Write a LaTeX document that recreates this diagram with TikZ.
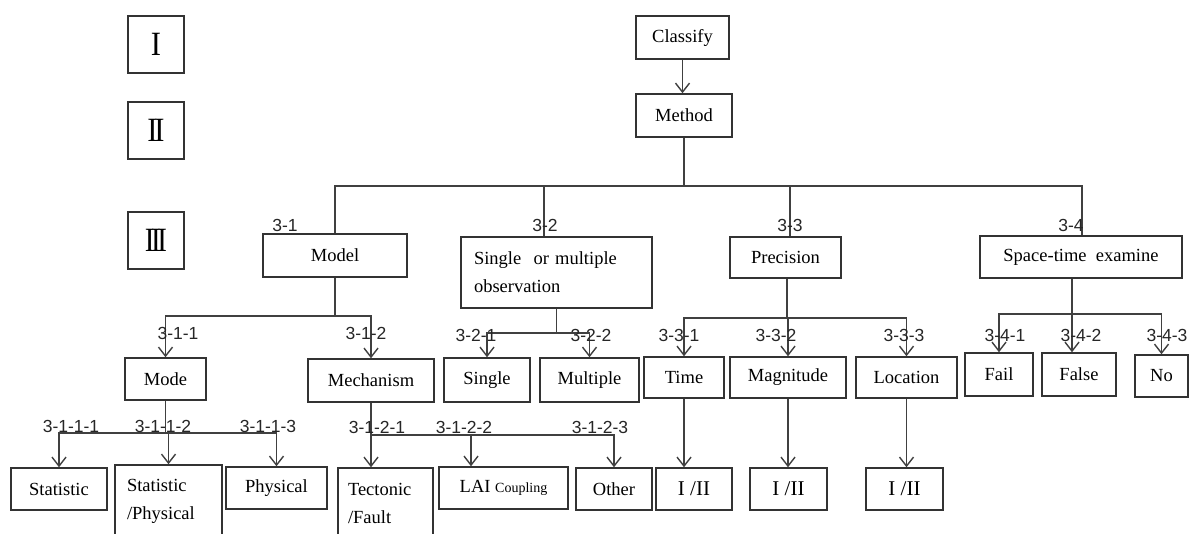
\documentclass[tikz,border=0pt]{standalone}
\usepackage{fontspec}
\usepackage{graphicx}
\setmainfont{Liberation Serif}
\newfontfamily\lblfont{Liberation Sans}
\usetikzlibrary{arrows.meta}
\newcommand\mkbox[6][]{\node[box,#1,minimum width={#4-#2},minimum height={#5-#3}] (#6) at ({(#2+#4)/2},{(#3+#5)/2})}
\begin{document}
\begin{tikzpicture}[x=1pt,y=-1pt,
  box/.style={draw=black!80, line width=1.5pt, inner sep=0pt, font=\fontsize{18.5}{28}\selectfont},
  ln/.style={draw=black!75, line width=1.5pt},
  arr/.style={ln, -{Straight Barb[length=9pt,width=14pt,line width=1.4pt]}},
  lab/.style={font=\lblfont\fontsize{17.5}{20}\selectfont, inner sep=0pt, text=black!85},
  rom/.style={box, font=\fontsize{34}{36}\selectfont}]
\useasboundingbox (0,0) rectangle (1197,534);
\fill[white] (0,0) rectangle (1197,534);
\clip (0,0) rectangle (1197,534);

% level boxes
\mkbox[rom]{128}{16}{184}{73}{r1} {\scalebox{0.9}[1]{I}};
\mkbox[rom]{128}{102}{184}{159}{r2} {\scalebox{0.9}[1]{I\kern-3.5pt I}};
\mkbox[rom]{128}{212}{184}{269}{r3} {\scalebox{0.85}[1]{I\kern-4pt I\kern-4pt I}};

% top
\mkbox{636}{16}{729}{59}{classify} {Classify};
\mkbox{636}{94}{732}{137}{method} {Method};

% level 3
\mkbox{263}{234}{407}{277}{model} {Model};
\mkbox[align=left,text width=165pt]{461}{237}{652}{308}{sm} {Single\ \ or multiple\\observation};
\mkbox{730}{237}{841}{278}{prec} {Precision};
\mkbox{980}{236}{1182}{278}{space} {Space-time\ \ examine};

% level 3-x-y
\mkbox{125}{358}{206}{400}{mode} {Mode};
\mkbox{308}{359}{434}{402}{mech} {Mechanism};
\mkbox{444}{358}{530}{402}{single} {Single};
\mkbox{540}{358}{639}{402}{multiple} {Multiple};
\mkbox{644}{357}{724}{398}{time} {Time};
\mkbox{730}{357}{846}{398}{mag} {Magnitude};
\mkbox{856}{357}{957}{398}{loc} {Location};
\mkbox{965}{353}{1033}{396}{fail} {Fail};
\mkbox{1042}{353}{1116}{396}{false} {False};
\mkbox{1135}{355}{1188}{397}{no} {No};

% bottom
\mkbox{11}{468}{107}{510}{stat} {Statistic};
\mkbox[align=left,text width=83pt]{115}{465}{222}{537}{statphys} {Statistic\\/Physical};
\mkbox{226}{467}{327}{509}{phys} {Physical};
\mkbox[align=left,text width=75pt]{338}{468}{433}{538}{tect} {Tectonic\\/Fault};
\mkbox{439}{467}{568}{509}{lai} {LAI {\fontsize{14}{16}\selectfont Coupling}};
\mkbox{576}{468}{652}{510}{other} {Other};
\mkbox[font=\fontsize{21}{24}\selectfont]{656}{468}{732}{510}{i1} {I /II};
\mkbox[font=\fontsize{21}{24}\selectfont]{750}{468}{827}{510}{i2} {I /II};
\mkbox[font=\fontsize{21}{24}\selectfont]{866}{468}{943}{510}{i3} {I /II};

% bus coordinates
\coordinate (busA) at (0,186);
\coordinate (busB) at (0,316);
\coordinate (busC) at (0,433);
\coordinate (busD) at (0,435);
\coordinate (busE) at (0,333);
\coordinate (busF) at (0,318);
\coordinate (busG) at (0,314);

% top connectors
\draw[arr] (classify.south) -- (classify.south |- method.north);
\draw[ln] (method.south) -- (method.south |- busA);
\draw[ln] (model.north) |- ([xshift=1pt]space.north |- busA) -- ([xshift=1pt]space.north);
\draw[ln] ([xshift=-12.5pt]sm.north |- busA) -- ([xshift=-12.5pt]sm.north);
\draw[ln] ([xshift=4.5pt]prec.north |- busA) -- ([xshift=4.5pt]prec.north);

% model
\draw[ln] (model.south) -- (model.south |- busB);
\draw[arr] (model.south |- busB) -| (mode.north);
\draw[arr] (model.south |- busB) -| (mech.north);

% mode
\draw[ln] (mode.south) -- (mode.south |- busC);
\draw[arr] (mode.south |- busC) -| (stat.north);
\draw[arr] (mode.south |- busC) -| (statphys.north);
\draw[arr] (mode.south |- busC) -| (phys.north);

% mechanism
\draw[arr] (mech.south) -- (mech.south |- tect.north);
\draw[arr] (mech.south |- busD) -| ([xshift=-32.5pt]lai.north);
\draw[arr] (mech.south |- busD) -| (other.north);

% single/multiple
\draw[ln] (sm.south) -- (sm.south |- busE);
\draw[arr] (sm.south |- busE) -| (single.north);
\draw[arr] (sm.south |- busE) -| (multiple.north);

% precision
\coordinate (pp) at ([xshift=1.5pt]prec.south);
\draw[ln] (pp) -- (pp |- busF);
\draw[arr] (pp |- busF) -| (time.north);
\draw[arr] (pp |- busF) -| (mag.north);
\draw[arr] (pp |- busF) -| (loc.north);
\draw[arr] (time.south) -- (time.south |- i1.north);
\draw[arr] (mag.south) -- (mag.south |- i2.north);
\draw[arr] (loc.south) -- (loc.south |- i3.north);

% space-time
\coordinate (sp) at ([xshift=-9pt]space.south);
\draw[arr] (sp) -- (sp |- false.north);
\draw[arr] (sp |- busG) -| (fail.north);
\draw[arr] (sp |- busG) -| (no.north);

% labels
\node[lab] (l31) at (285,225) {3-1};
\node[lab] (l32) at (545,225) {3-2};
\node[lab] (l33) at (790,225) {3-3};
\node[lab] (l34) at (1071,225) {3-4};
\node[lab] (l311) at (178,333) {3-1-1};
\node[lab] (l312) at (366,333) {3-1-2};
\node[lab] (l3111) at (71,426) {3-1-1-1};
\node[lab] (l3112) at (163,426) {3-1-1-2};
\node[lab] (l3113) at (268,426) {3-1-1-3};
\node[lab] (l3121) at (377,427) {3-1-2-1};
\node[lab] (l3122) at (464,427) {3-1-2-2};
\node[lab] (l3123) at (600,427) {3-1-2-3};
\node[lab] (l321) at (476,335) {3-2-1};
\node[lab] (l322) at (591,335) {3-2-2};
\node[lab] (l331) at (679,335) {3-3-1};
\node[lab] (l332) at (776,335) {3-3-2};
\node[lab] (l333) at (904,335) {3-3-3};
\node[lab] (l341) at (1005,335) {3-4-1};
\node[lab] (l342) at (1081,335) {3-4-2};
\node[lab] (l343) at (1167,335) {3-4-3};
\end{tikzpicture}
\end{document}
